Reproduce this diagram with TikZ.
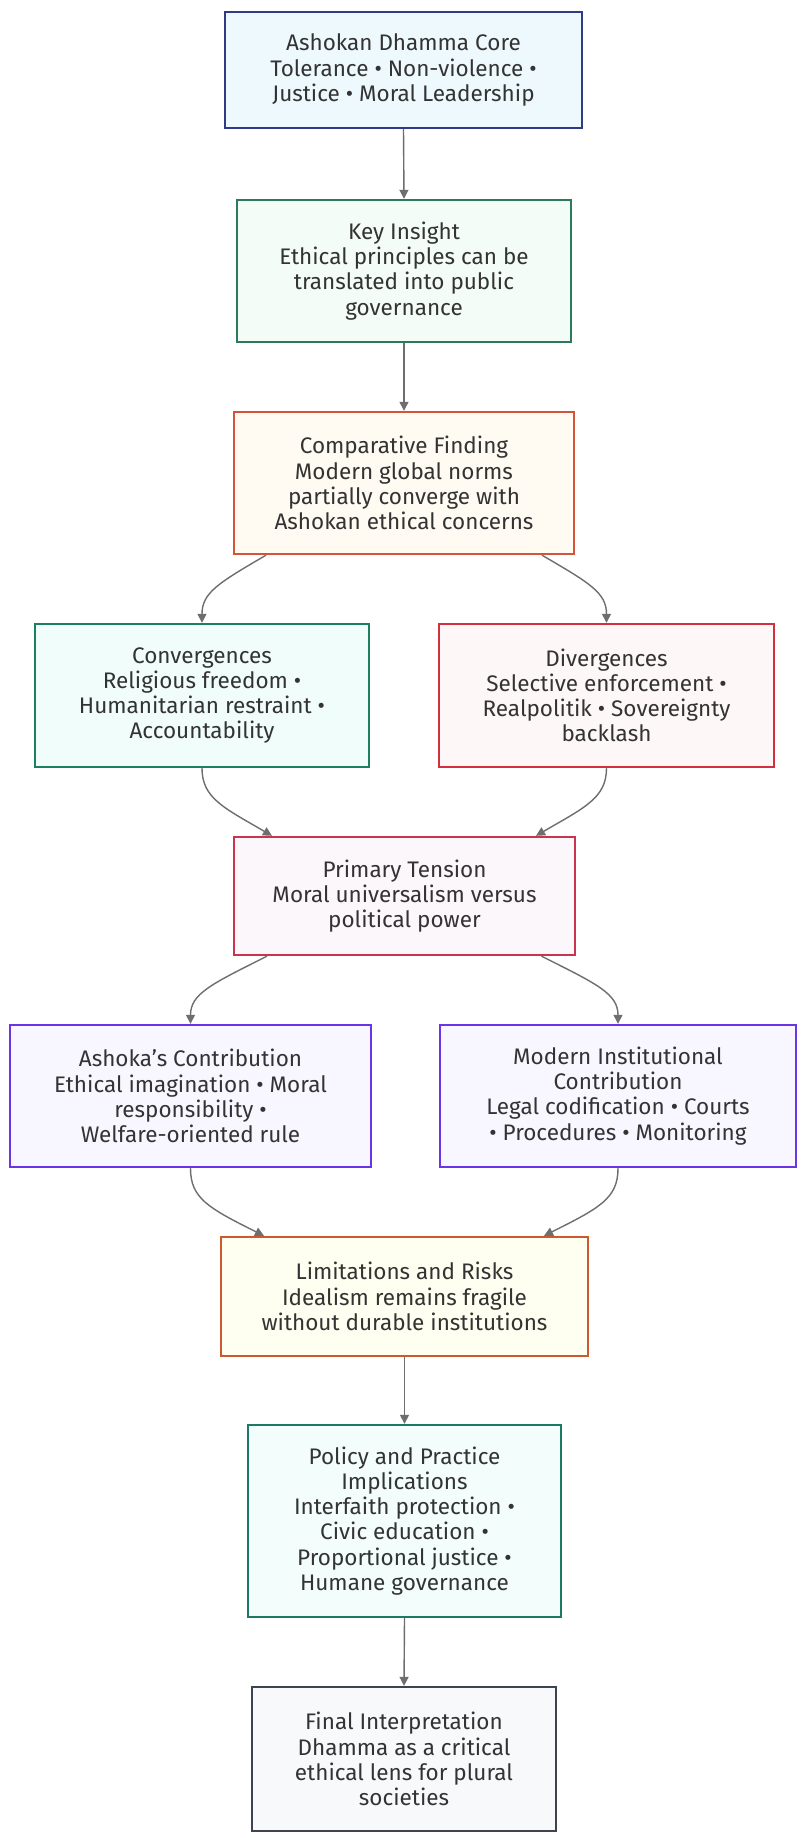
\documentclass[tikz,border=0pt]{standalone}
\usepackage{fontspec}
\setmainfont{Fira Sans}
\usetikzlibrary{arrows.meta,calc}
\definecolor{edgec}{HTML}{6E6E6E}
\definecolor{bA}{HTML}{2F3B84}\definecolor{fA}{HTML}{EEF9FE}
\definecolor{bB}{HTML}{2B7A5C}\definecolor{fB}{HTML}{F4FCF8}
\definecolor{bC}{HTML}{D4533A}\definecolor{fC}{HTML}{FFFBF2}
\definecolor{bD}{HTML}{1C8060}\definecolor{fD}{HTML}{F0FDFA}
\definecolor{bE}{HTML}{D03040}\definecolor{fE}{HTML}{FEF7F7}
\definecolor{bF}{HTML}{C93450}\definecolor{fF}{HTML}{FCF7FB}
\definecolor{bG}{HTML}{6A35E5}\definecolor{fG}{HTML}{F8F7FF}
\definecolor{bH}{HTML}{CC5A2E}\definecolor{fH}{HTML}{FEFFF0}
\definecolor{bI}{HTML}{1C7A64}\definecolor{fI}{HTML}{F3FDFC}
\definecolor{bJ}{HTML}{3D4350}\definecolor{fJ}{HTML}{F8F9FA}
\definecolor{txt}{HTML}{333333}
\tikzset{
  box/.style={draw, line width=2.4pt, align=center, inner sep=4pt,
    font=\fontsize{22.5}{25.2}\selectfont, text=txt,
    execute at begin node={\rule{0pt}{25pt}}},
  conn/.style={draw=edgec, line width=1.4pt, -{Triangle[length=9pt,width=9pt]}},
}
\begin{document}
\begin{tikzpicture}[x=1pt,y=-1pt]
\useasboundingbox (0,0) rectangle (805,1838);
\fill[white] (0,0) rectangle (805,1838);
\node[box, draw=bA, fill=fA, minimum width=357pt, minimum height=116pt] (core) at (403.5,70)
  {Ashokan Dhamma Core\\Tolerance • Non-violence •\\Justice • Moral Leadership};
\node[box, draw=bB, fill=fB, minimum width=334pt, minimum height=142pt] (insight) at (404,271)
  {Key Insight\\Ethical principles can be\\translated into public\\governance};
\node[box, draw=bC, fill=fC, minimum width=340pt, minimum height=142pt] (comp) at (404,483)
  {Comparative Finding\\Modern global norms\\partially converge with\\Ashokan ethical concerns};
\node[box, draw=bD, fill=fD, minimum width=334pt, minimum height=143pt] (conv) at (202,695.5)
  {Convergences\\Religious freedom •\\Humanitarian restraint •\\Accountability};
\node[box, draw=bE, fill=fE, minimum width=335pt, minimum height=143pt] (div) at (606.5,695.5)
  {Divergences\\Selective enforcement •\\Realpolitik • Sovereignty\\backlash};
\node[box, draw=bF, fill=fF, minimum width=341pt, minimum height=118pt] (prim) at (404.5,896)
  {Primary Tension\\Moral universalism versus\\political power};
\node[box, draw=bG, fill=fG, minimum width=361pt, minimum height=142pt] (ashoka) at (190.5,1096)
  {Ashoka’s Contribution\\Ethical imagination • Moral\\responsibility •\\Welfare-oriented rule};
\node[box, draw=bG, fill=fG, minimum width=356pt, minimum height=142pt] (modern) at (618,1096)
  {Modern Institutional\\Contribution\\Legal codification • Courts\\• Procedures • Monitoring};
\node[box, draw=bH, fill=fH, minimum width=367pt, minimum height=119pt] (limit) at (404.5,1296.5)
  {Limitations and Risks\\Idealism remains fragile\\without durable institutions};
\node[box, draw=bI, fill=fI, minimum width=313pt, minimum height=192pt] (policy) at (404.5,1521)
  {Policy and Practice\\Implications\\Interfaith protection •\\Civic education •\\Proportional justice •\\Humane governance};
\node[box, draw=bJ, fill=fJ, minimum width=304pt, minimum height=144pt] (final) at (404,1759)
  {Final Interpretation\\Dhamma as a critical\\ethical lens for plural\\societies};
% straight connectors
\draw[conn] (core.south) -- (insight.north);
\draw[conn] (insight.south) -- (comp.north);
\draw[conn] (limit.south) -- (policy.north);
\draw[conn] (policy.south) -- (final.north);
% curved connectors
\coordinate (c1) at ([xshift=-138pt]comp.south);
\coordinate (c2) at ([xshift=138pt]comp.south);
\draw[conn] (c1) .. controls +(-48,28) and +(0,-30) .. (conv.north);
\draw[conn] (c2) .. controls +(48,28) and +(0,-30) .. (div.north);
\coordinate (p1) at ([xshift=-132.5pt]prim.north);
\coordinate (p2) at ([xshift=131.5pt]prim.north);
\draw[conn] (conv.south) .. controls +(0,30) and +(-48,-28) .. (p1);
\draw[conn] (div.south) .. controls +(0,30) and +(48,-28) .. (p2);
\coordinate (q1) at ([xshift=-137.5pt]prim.south);
\coordinate (q2) at ([xshift=137pt]prim.south);
\draw[conn] (q1) .. controls +(-56,28) and +(0,-30) .. (ashoka.north);
\draw[conn] (q2) .. controls +(56,28) and +(0,-30) .. (modern.north);
\coordinate (r1) at ([xshift=-140.5pt]limit.north);
\coordinate (r2) at ([xshift=139.5pt]limit.north);
\draw[conn] (ashoka.south) .. controls +(0,30) and +(-56,-28) .. (r1);
\draw[conn] (modern.south) .. controls +(0,30) and +(56,-28) .. (r2);
\end{tikzpicture}
\end{document}
